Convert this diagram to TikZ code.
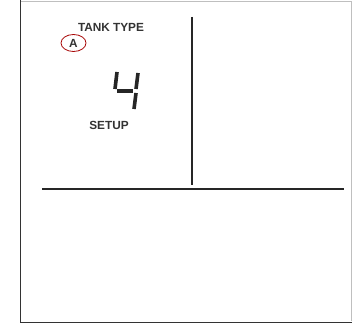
\documentclass[tikz,border=0pt]{standalone}
\usepackage{fontspec}
\setmainfont{Liberation Sans}
\usetikzlibrary{shapes.geometric}
\begin{document}
\begin{tikzpicture}[x=1pt,y=-1pt,
  lbl/.style={font=\bfseries\fontsize{11.8}{13}\selectfont, text=black!80, inner sep=0pt},
  seg/.style={line width=3.6pt, black!85},
  rule/.style={line width=1.2pt, black!85}]
\useasboundingbox (0,0) rectangle (352,323);
\fill[white] (0,0) rectangle (352,323);
% frame
\draw[black!25, line width=0.6pt] (20,1) -- (351,1) -- (351,321);
\draw[black!80, line width=0.9pt] (20,0) -- (20,322) -- (352,322);
% dividers
\coordinate (vt) at (192,17);
\coordinate (vb) at (192,185);
\coordinate (hl) at (42,189);
\coordinate (hr) at (344,189);
\draw[rule] (vt) -- (vb);
\draw[rule] (hl) -- (hr);
% labels
\node[lbl] (tank) at (111,27) {TANK TYPE};
\node[lbl] (setup) at (109,125) {SETUP};
\node[lbl, draw=red!65!black, line width=0.8pt, ellipse, minimum width=25pt, minimum height=17pt] (a) at (73.5,43) {A};
% seven segment 4
\draw[seg] (117,72) -- (115,89);
\draw[seg] (117,91) -- (133,91);
\draw[seg] (138,73) -- (136,89);
\draw[seg] (136,93) -- (134,109);
\end{tikzpicture}
\end{document}
